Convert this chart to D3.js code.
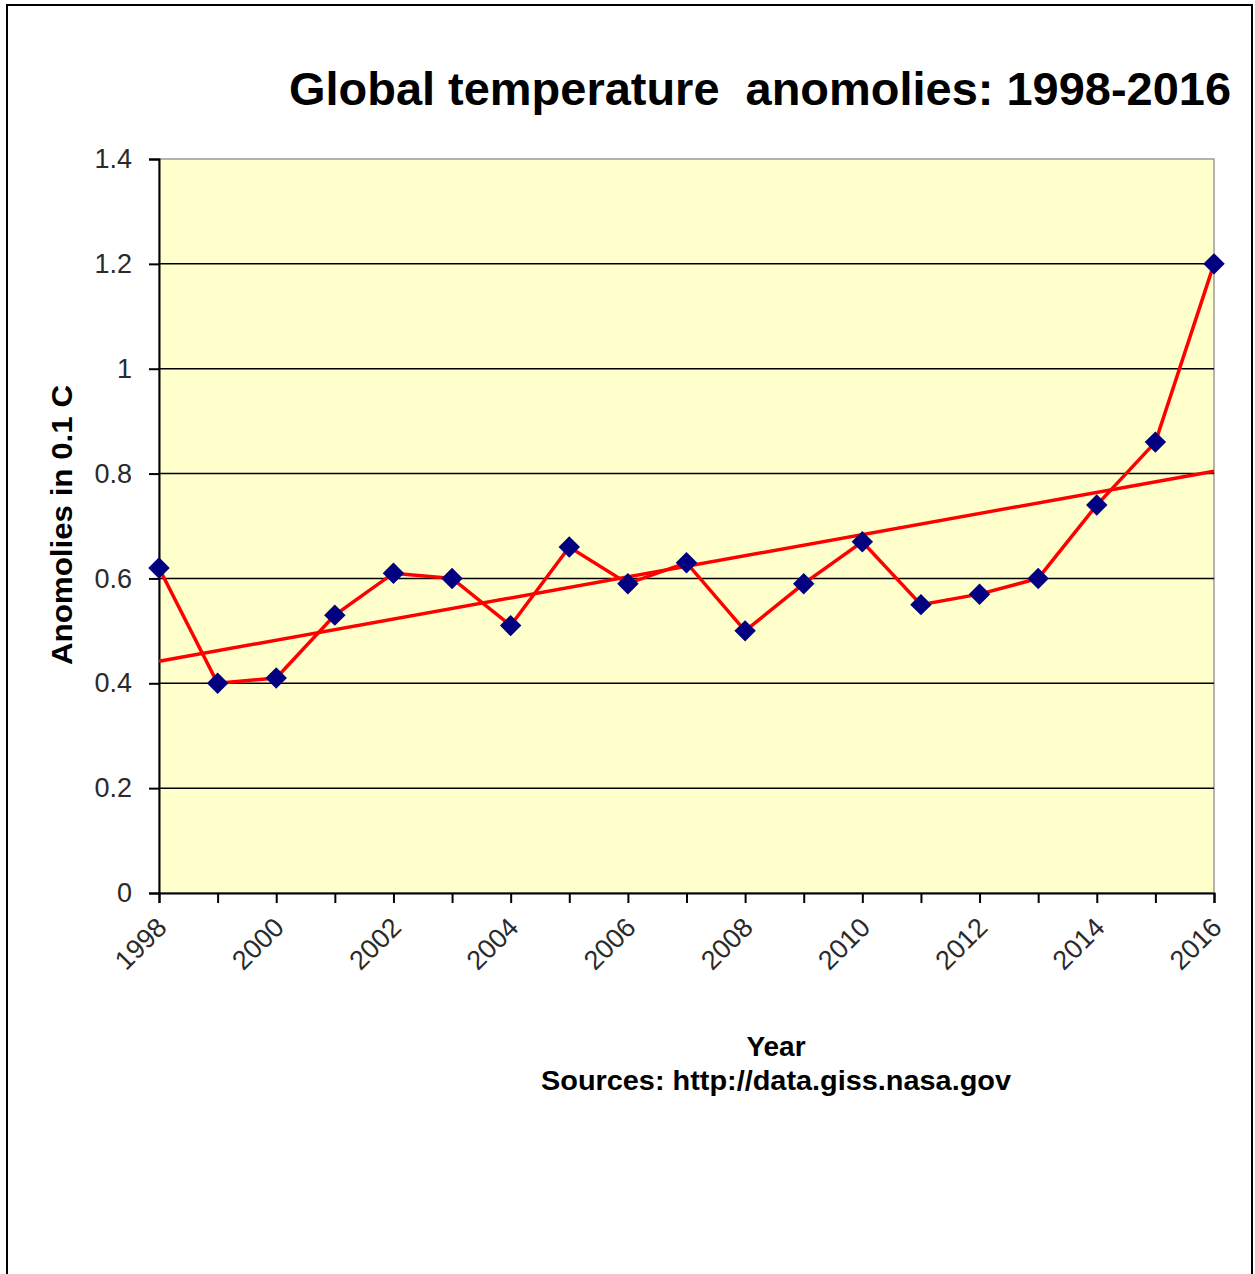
<!DOCTYPE html>
<html>
<head>
    <script src="https://cdn.jsdelivr.net/npm/d3@7"></script>
</head>

<style>
    body { margin: 0; background: #fff; }
    text { font-family: "Liberation Sans", Arial, sans-serif; }
    .tick text { font-size: 27px; fill: #2a2a2a; }
    .series { fill: none; stroke: #ff0000; stroke-width: 3.5px; }
    .trend { stroke: #ff0000; stroke-width: 3.5px; }
</style>

<body>
<div id="chart"></div>

<script>

    var years = [1998, 1999, 2000, 2001, 2002, 2003, 2004, 2005, 2006, 2007,
                 2008, 2009, 2010, 2011, 2012, 2013, 2014, 2015, 2016];
    var anomalies = [0.62, 0.40, 0.41, 0.53, 0.61, 0.60, 0.51, 0.66, 0.59, 0.63,
                     0.50, 0.59, 0.67, 0.55, 0.57, 0.60, 0.74, 0.86, 1.20];
    var yTicks = [0, 0.2, 0.4, 0.6, 0.8, 1, 1.2, 1.4];

    var width = 1255, height = 1274;
    var plot = { left: 159, right: 1214, top: 159, bottom: 893 };

    var data = years.map(function(y, i) { return { year: y, value: anomalies[i] }; });

    var x = d3.scaleLinear().domain([1998, 2016]).range([plot.left, plot.right]);
    var y = d3.scaleLinear().domain([0, 1.4]).range([plot.bottom, plot.top]);

    var svg = d3.select('#chart').append('svg')
        .attr('width', width)
        .attr('height', height);

    // outer frame (bottom edge runs off the picture)
    svg.append('path')
        .attr('d', 'M7,' + (height + 5) + 'V5H1252V' + (height + 5))
        .attr('fill', 'none')
        .attr('stroke', '#000')
        .attr('stroke-width', 2);

    // plot background
    svg.append('rect')
        .attr('x', plot.left).attr('y', plot.top)
        .attr('width', plot.right - plot.left)
        .attr('height', plot.bottom - plot.top)
        .attr('fill', '#ffffcc')
        .attr('stroke', '#9a9a9a')
        .attr('stroke-width', 1.5);

    // gridlines
    svg.append('g').selectAll('line')
        .data(yTicks.filter(function(d) { return d > 0 && d < 1.4; }))
        .enter().append('line')
        .attr('x1', plot.left).attr('x2', plot.right)
        .attr('y1', function(d) { return y(d); })
        .attr('y2', function(d) { return y(d); })
        .attr('stroke', '#000')
        .attr('stroke-width', 1.5);

    // axes
    var yAxis = d3.axisLeft(y)
        .tickValues(yTicks)
        .tickSize(10)
        .tickPadding(17)
        .tickFormat(function(d) { return String(+d.toFixed(1)); });

    var gy = svg.append('g')
        .attr('transform', 'translate(' + plot.left + ',0)')
        .call(yAxis);

    var xAxis = d3.axisBottom(x)
        .tickValues(years)
        .tickSize(10)
        .tickFormat(function(d) { return d % 2 === 0 ? d : ''; });

    var gx = svg.append('g')
        .attr('transform', 'translate(0,' + plot.bottom + ')')
        .call(xAxis);

    gx.selectAll('.tick text')
        .attr('y', 0).attr('dy', 0)
        .attr('text-anchor', 'end')
        .attr('transform', 'translate(9,36) rotate(-45)');

    [gx, gy].forEach(function(g) {
        g.select('.domain').attr('stroke', '#000').attr('stroke-width', 2);
        g.selectAll('.tick line').attr('stroke', '#000').attr('stroke-width', 2);
    });

    // least squares trend
    var mx = d3.mean(years), my = d3.mean(anomalies);
    var slope = d3.sum(years, function(yr, i) { return (yr - mx) * (anomalies[i] - my); }) /
                d3.sum(years, function(yr) { return (yr - mx) * (yr - mx); });
    var trend = [1998, 2016].map(function(yr) { return { year: yr, value: my + slope * (yr - mx) }; });

    svg.append('line')
        .attr('class', 'trend')
        .attr('x1', x(trend[0].year)).attr('y1', y(trend[0].value))
        .attr('x2', x(trend[1].year)).attr('y2', y(trend[1].value));

    var pen = d3.line()
        .x(function(d) { return x(d.year); })
        .y(function(d) { return y(d.value); });

    svg.append('path')
        .datum(data)
        .attr('class', 'series')
        .attr('d', pen);

    svg.append('g').selectAll('path.point')
        .data(data)
        .enter().append('path')
        .attr('class', 'point')
        .attr('d', d3.symbol().type(d3.symbolSquare).size(230))
        .attr('transform', function(d) {
            return 'translate(' + x(d.year) + ',' + y(d.value) + ') rotate(45)';
        })
        .attr('fill', '#000080');

    // titles
    svg.append('text')
        .attr('x', 760).attr('y', 105)
        .attr('text-anchor', 'middle')
        .attr('font-size', 46).attr('font-weight', 'bold')
        .attr('textLength', 942).attr('lengthAdjust', 'spacingAndGlyphs')
        .attr('xml:space', 'preserve')
        .text('Global temperature  anomolies: 1998-2016');

    svg.append('text')
        .attr('transform', 'translate(72,525) rotate(-90)')
        .attr('text-anchor', 'middle')
        .attr('font-size', 29).attr('font-weight', 'bold')
        .attr('textLength', 280).attr('lengthAdjust', 'spacingAndGlyphs')
        .text('Anomolies in 0.1 C');

    svg.append('text')
        .attr('x', 776).attr('y', 1056)
        .attr('text-anchor', 'middle')
        .attr('font-size', 28).attr('font-weight', 'bold')
        .text('Year');

    svg.append('text')
        .attr('x', 776).attr('y', 1090)
        .attr('text-anchor', 'middle')
        .attr('font-size', 28).attr('font-weight', 'bold')
        .attr('textLength', 470).attr('lengthAdjust', 'spacingAndGlyphs')
        .text('Sources: http://data.giss.nasa.gov');

</script>
</body>
</html>
